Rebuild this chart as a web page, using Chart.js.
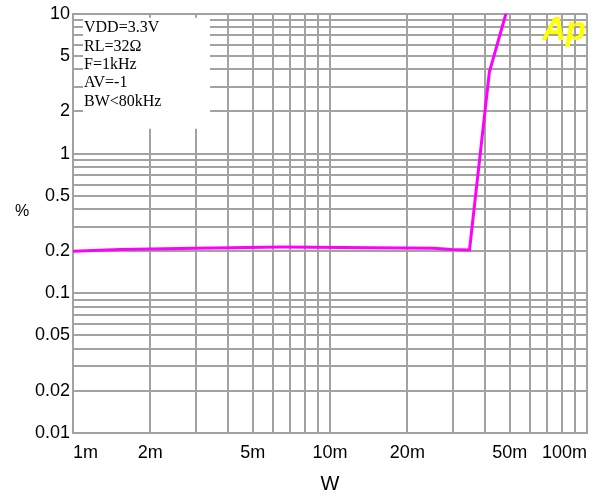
<!DOCTYPE html>
<html>
<head>
<meta charset="utf-8">
<script src="https://cdn.jsdelivr.net/npm/chart.js@4/dist/chart.umd.min.js"></script>
<style>
    html, body { margin: 0; padding: 0; background: #fff; }
</style>
</head>
<body>
<canvas id="thdChart" width="596" height="494"></canvas>
<script>
// THD+N (%) vs output power (W)
const powerW = [0.001, 0.00152, 0.003, 0.0065, 0.0253, 0.0297, 0.0349, 0.0417, 0.0485];
const thdPercent = [0.200, 0.206, 0.210, 0.214, 0.210, 0.206, 0.204, 3.83, 10.2];

const xLabelValues = [0.001, 0.002, 0.005, 0.01, 0.02, 0.05, 0.1];
const xLabelText = ['1m', '2m', '5m', '10m', '20m', '50m', '100m'];
const yLabelValues = [0.01, 0.02, 0.05, 0.1, 0.2, 0.5, 1, 2, 5, 10];
const yLabelText = ['0.01', '0.02', '0.05', '0.1', '0.2', '0.5', '1', '2', '5', '10'];

const conditions = ['VDD=3.3V', 'RL=32\u03A9', 'F=1kHz', 'AV=-1', 'BW<80kHz'];

const gridColor = '#a2a2a2';
const tickFont = { family: "'Liberation Sans', Arial, sans-serif", size: 18 };

// every 1..9 step in each decade, used for the grid
function gridValues(min, max) {
    const out = [];
    for (let d = min; d < max * 0.999; d *= 10) {
        for (let k = 1; k <= 9; k++) out.push({ value: +(d * k).toPrecision(6) });
    }
    out.push({ value: max });
    return out;
}

function labelFor(v, values, texts) {
    const i = values.findIndex(x => Math.abs(v / x - 1) < 1e-6);
    return i < 0 ? '' : texts[i];
}

const notes = {
    id: 'notes',
    beforeDatasetsDraw(chart) {
        const ctx = chart.ctx;
        const a = chart.chartArea;
        ctx.save();
        // white label box that hides the grid in the upper left
        ctx.fillStyle = '#ffffff';
        ctx.fillRect(a.left + 10, a.top + 4, 127, 111);
        ctx.fillStyle = '#000';
        ctx.font = "16px 'Liberation Serif', 'Times New Roman', serif";
        ctx.textBaseline = 'alphabetic';
        conditions.forEach((t, i) => {
            ctx.fillText(t, a.left + 11, a.top + 18.5 + i * 18.3);
        });
        ctx.restore();
    },
    afterDraw(chart) {
        const ctx = chart.ctx;
        const a = chart.chartArea;
        ctx.save();
        ctx.fillStyle = '#ffff00';
        ctx.font = "italic bold 33px 'Liberation Sans', Arial, sans-serif";
        ctx.textBaseline = 'alphabetic';
        ctx.fillText('Ap', a.right - 45, a.top + 26);

        ctx.fillStyle = '#000';
        ctx.textAlign = 'center';
        ctx.textBaseline = 'middle';
        ctx.font = "16px 'Liberation Sans', Arial, sans-serif";
        ctx.fillText('%', 22, 212);
        ctx.font = "20px 'Liberation Sans', Arial, sans-serif";
        ctx.fillText('W', (a.left + a.right) / 2, 484);
        ctx.restore();
    }
};

new Chart(document.getElementById('thdChart'), {
    type: 'line',
    data: {
        datasets: [{
            data: powerW.map((p, i) => ({ x: p, y: thdPercent[i] })),
            borderColor: '#ff00ff',
            borderWidth: 3,
            pointRadius: 0,
            tension: 0,
            fill: false
        }]
    },
    options: {
        responsive: false,
        animation: false,
        layout: { padding: { top: 13, right: 8, left: 0, bottom: 0 } },
        plugins: { legend: { display: false }, tooltip: { enabled: false } },
        scales: {
            x: {
                type: 'logarithmic',
                min: 0.001,
                max: 0.1,
                afterBuildTicks: s => { s.ticks = gridValues(0.001, 0.1); },
                afterFit: s => { s.height = 61; },
                grid: { color: gridColor, lineWidth: 2, drawTicks: false },
                border: { color: gridColor, width: 2 },
                ticks: {
                    autoSkip: false,
                    maxRotation: 0,
                    align: 'inner',
                    padding: 9,
                    color: '#000',
                    font: tickFont,
                    callback: v => labelFor(v, xLabelValues, xLabelText)
                }
            },
            y: {
                type: 'logarithmic',
                min: 0.01,
                max: 10,
                afterBuildTicks: s => { s.ticks = gridValues(0.01, 10); },
                afterFit: s => { s.width = 73; },
                grid: { color: gridColor, lineWidth: 2, drawTicks: false },
                border: { color: gridColor, width: 2 },
                ticks: {
                    autoSkip: false,
                    padding: 3,
                    color: '#000',
                    font: tickFont,
                    callback: v => labelFor(v, yLabelValues, yLabelText)
                }
            }
        }
    },
    plugins: [notes]
});
</script>
</body>
</html>
